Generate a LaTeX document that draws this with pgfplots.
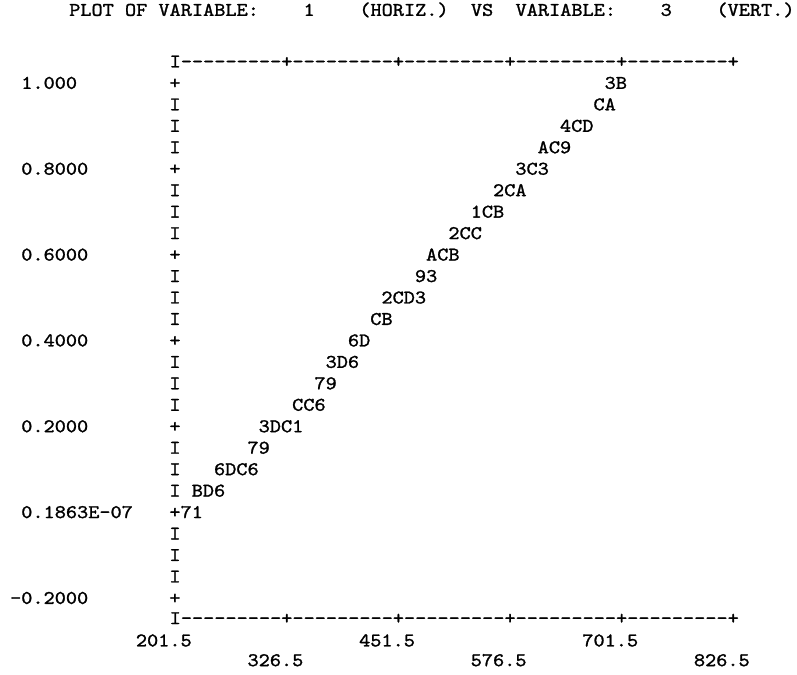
\documentclass[border=0pt]{standalone}
\usepackage{fontspec}
\setmonofont{lmmono10-regular}[Extension=.otf, FakeStretch=1.0995, FakeBold=1.3]
\usepackage{pgfplots}
\usepackage{pgfplotstable}
\pgfplotsset{compat=1.18}

% plot symbols of the line-printer plot, one per character cell
\pgfplotstableread{
x y s
689.0 1.00 3
701.5 1.00 B
676.5 0.95 C
689.0 0.95 A
639.0 0.90 4
651.5 0.90 C
664.0 0.90 D
614.0 0.85 A
626.5 0.85 C
639.0 0.85 9
589.0 0.80 3
601.5 0.80 C
614.0 0.80 3
564.0 0.75 2
576.5 0.75 C
589.0 0.75 A
539.0 0.70 1
551.5 0.70 C
564.0 0.70 B
514.0 0.65 2
526.5 0.65 C
539.0 0.65 C
489.0 0.60 A
501.5 0.60 C
514.0 0.60 B
476.5 0.55 9
489.0 0.55 3
439.0 0.50 2
451.5 0.50 C
464.0 0.50 D
476.5 0.50 3
426.5 0.45 C
439.0 0.45 B
401.5 0.40 6
414.0 0.40 D
376.5 0.35 3
389.0 0.35 D
401.5 0.35 6
364.0 0.30 7
376.5 0.30 9
339.0 0.25 C
351.5 0.25 C
364.0 0.25 6
301.5 0.20 3
314.0 0.20 D
326.5 0.20 C
339.0 0.20 1
289.0 0.15 7
301.5 0.15 9
251.5 0.10 6
264.0 0.10 D
276.5 0.10 C
289.0 0.10 6
226.5 0.05 B
239.0 0.05 D
251.5 0.05 6
214.0 0.00 7
226.5 0.00 1
}\plotchars

% left edge of the frame
\pgfplotstableread{
x y s
201.5 1.00 +
201.5 0.95 I
201.5 0.90 I
201.5 0.85 I
201.5 0.80 +
201.5 0.75 I
201.5 0.70 I
201.5 0.65 I
201.5 0.60 +
201.5 0.55 I
201.5 0.50 I
201.5 0.45 I
201.5 0.40 +
201.5 0.35 I
201.5 0.30 I
201.5 0.25 I
201.5 0.20 +
201.5 0.15 I
201.5 0.10 I
201.5 0.05 I
201.5 0.00 +
201.5 -0.05 I
201.5 -0.10 I
201.5 -0.15 I
201.5 -0.20 +
}\leftedge

% top and bottom edges of the frame
\pgfplotstableread{
x y s
201.5 1.05 I---------+---------+---------+---------+---------+
201.5 -0.247 I---------+---------+---------+---------+---------+
}\hedges

\tikzset{pc/.style={font=\ttfamily\fontsize{14.5pt}{16pt}\selectfont,
  inner sep=0pt, text height=8.8pt, text depth=0pt}}

\begin{document}
\begin{tikzpicture}
\begin{axis}[
  x=0.6696pt, y=321.9pt,
  xmin=5.5, xmax=898.2, ymin=-0.377, ymax=1.1934,
  axis line style={draw=none},
  major tick length=0pt, tick style={draw=none},
  clip=false,
  xtick={201.5,326.5,451.5,576.5,701.5,826.5},
  xticklabels={201.5,\raisebox{-14.8pt}{326.5},451.5,\raisebox{-14.8pt}{576.5},701.5,\raisebox{-14.8pt}{826.5}},
  xticklabel style={pc, anchor=base, xshift=-8.37pt, yshift=20.7pt},
  ytick={-0.2,0,0.2,0.4,0.6,0.8,1.0},
  yticklabels={\llap{-}0.2000,0.1863E-07,0.2000,0.4000,0.6000,0.8000,1.000},
  yticklabel style={pc, anchor=west, xshift=15.75pt},
  title={PLOT~OF~VARIABLE:~~~~1~~~~(HORIZ.)~~VS~~VARIABLE:~~~~3~~~~(VERT.)},
  title style={pc, anchor=west, at={(rel axis cs:0.0865,0.9733)}},
  every node near coord/.append style={pc, anchor=center},
]
\addplot[draw=none, mark=none, nodes near coords, point meta=explicit symbolic]
  table[x=x, y=y, meta=s]{\plotchars};
\addplot[draw=none, mark=none, nodes near coords, point meta=explicit symbolic]
  table[x=x, y=y, meta=s]{\leftedge};
\addplot[draw=none, mark=none, nodes near coords, point meta=explicit symbolic,
  every node near coord/.append style={anchor=west, xshift=-4.185pt}]
  table[x=x, y=y, meta=s]{\hedges};
\coordinate (bl) at (rel axis cs:0,0);
\coordinate (tr) at (rel axis cs:1,1);
\end{axis}
\pgfresetboundingbox
\useasboundingbox (bl) rectangle (tr);
\end{tikzpicture}
\end{document}
